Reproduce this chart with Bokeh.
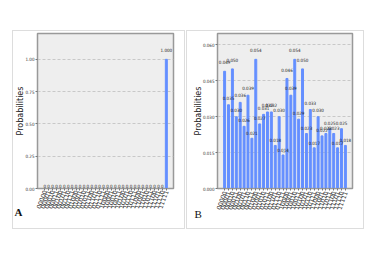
import math
from bokeh.plotting import figure
from bokeh.models import ColumnDataSource, FixedTicker, Title, Range1d, PrintfTickFormatter
from bokeh.layouts import row
from bokeh.core.properties import value
from bokeh.embed import file_html
from bokeh.resources import INLINE

states = ["00000", "00001", "00010", "00011", "00100", "00101", "00110", "00111",
          "01000", "01001", "01010", "01011", "01100", "01101", "01110", "01111",
          "10000", "10001", "10010", "10011", "10100", "10101", "10110", "10111",
          "11000", "11001", "11010", "11011", "11100", "11101", "11110", "11111"]

probs_a = [0, 0, 0, 0, 0, 0, 0, 0, 0, 0, 0, 0, 0, 0, 0, 0,
           0, 0, 0, 0, 0, 0, 0, 0, 0, 0, 0, 0, 0, 0, 0, 1.0]

probs_b = [0.049, 0.035, 0.050, 0.030, 0.036, 0.026, 0.039, 0.021,
           0.054, 0.027, 0.031, 0.032, 0.032, 0.018, 0.030, 0.014,
           0.046, 0.039, 0.054, 0.029, 0.050, 0.023, 0.033, 0.017,
           0.030, 0.022, 0.023, 0.025, 0.023, 0.017, 0.025, 0.018]

yticks_a = [0.0, 0.25, 0.5, 0.75, 1.0]
yticks_b = [0.0, 0.015, 0.030, 0.045, 0.060]

BAR = "#648fff"
SMALL_FONT = "'Liberation Sans Narrow', 'DejaVu Sans Condensed', 'DejaVu Sans', sans-serif"


def make(probs, yticks, yfmt, letter, width, borders, letter_offset, letter_standoff,
         letter_style, xlab_standoff):
    n = len(probs)
    xs = list(range(n))
    labs = ["%.3f" % v if v > 0 else "0" for v in probs]
    src = ColumnDataSource(dict(x=xs, top=probs, ly=[1.05 * v for v in probs], lab=labs))
    ymax = max(probs) * 1.2
    left, right, top, bottom = borders
    p = figure(width=width, height=199, output_backend="svg", toolbar_location=None,
               x_range=Range1d(-1.825, n - 1 + 1.825), y_range=Range1d(0, ymax),
               min_border_left=left, min_border_right=right,
               min_border_top=top, min_border_bottom=bottom)
    p.background_fill_color = "#eeeeee"
    p.border_fill_color = "white"
    p.outline_line_color = "#999999"
    p.outline_line_width = 1.5

    p.vbar(x="x", top="top", width=0.5, color=BAR, source=src)
    p.text(x="x", y="ly", text="lab", source=src, text_align="center",
           text_baseline="bottom", text_font_size="4.5px", text_font=value(SMALL_FONT),
           text_color="#222222", y_offset=-1)

    p.xgrid.visible = False
    p.ygrid.ticker = FixedTicker(ticks=yticks)
    p.ygrid.grid_line_color = "#c8c8c8"
    p.ygrid.grid_line_dash = "3 2"

    p.yaxis.ticker = FixedTicker(ticks=yticks)
    p.yaxis.formatter = PrintfTickFormatter(format=yfmt)
    p.yaxis.axis_label = "Probabilities"
    p.yaxis.axis_label_text_font = "DejaVu Sans"
    p.yaxis.axis_label_text_font_size = "8px"
    p.yaxis.axis_label_text_font_style = "normal"
    p.yaxis.axis_label_text_color = "#222222"
    p.yaxis.axis_label_standoff = -3
    p.yaxis.major_label_text_font = SMALL_FONT
    p.yaxis.major_label_text_font_size = "4.5px"
    p.yaxis.major_label_standoff = 1

    p.xaxis.ticker = FixedTicker(ticks=xs)
    p.xaxis.major_label_overrides = {i: s for i, s in zip(xs, states)}
    p.xaxis.major_label_orientation = math.radians(70)
    p.xaxis.major_label_text_font = "DejaVu Sans"
    p.xaxis.major_label_text_font_size = "6px"
    p.xaxis.major_label_standoff = xlab_standoff

    for ax in (p.xaxis[0], p.yaxis[0]):
        ax.axis_line_color = "#999999"
        ax.major_tick_line_color = "#777777"
        ax.major_tick_out = 2
        ax.major_tick_in = 0
        ax.minor_tick_line_color = None
        ax.major_label_text_color = "#333333"

    p.add_layout(Title(text=letter, align="left", vertical_align="top",
                       offset=letter_offset, standoff=letter_standoff,
                       text_font="Liberation Serif", text_font_size="11px",
                       text_font_style=letter_style, text_color="#111111"), "below")
    p.styles = {"border": "1px solid #dddddd", "box-sizing": "border-box"}
    return p


pa = make(probs_a, yticks_a, "%.2f", "A", 173, (23, 13, 2, 35), -23, -15, "bold", 0)
pb = make(probs_b, yticks_b, "%.3f", "B", 178, (30, 13, 1, 42), -23, -14, "normal", 1)
pa.margin = (30, 0, 0, 12)
pb.margin = (30, 0, 0, 1)

layout = row(pa, pb)
open("out.html", "w").write(file_html(layout, INLINE))
